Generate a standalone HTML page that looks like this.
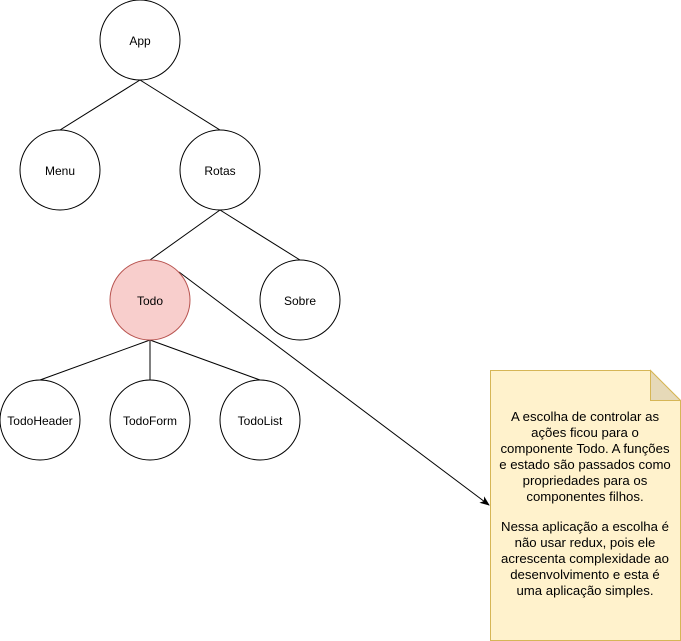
<!DOCTYPE html>
<html><head><meta charset="utf-8"><style>
html,body{margin:0;padding:0;background:#fff;width:681px;height:641px;overflow:hidden}
text{font-family:"Liberation Sans",Arial,sans-serif;font-size:12px;fill:#000}
.n text{font-size:13.2px}
</style></head><body>
<svg width="681" height="641" viewBox="0 0 681 641" xmlns="http://www.w3.org/2000/svg">
<defs><marker id="a" markerWidth="10" markerHeight="10" refX="9" refY="5" orient="auto" markerUnits="userSpaceOnUse"><path d="M0,1 L10,5 L0,9 L2.5,5 Z" fill="#000"/></marker></defs>
<g stroke="#000" stroke-width="1" fill="none">
<line x1="140" y1="80" x2="60" y2="130"/>
<line x1="140" y1="80" x2="220" y2="130"/>
<line x1="220" y1="210" x2="150" y2="260"/>
<line x1="220" y1="210" x2="300" y2="260"/>
<line x1="150" y1="340" x2="40" y2="380"/>
<line x1="150" y1="340" x2="150" y2="380"/>
<line x1="150" y1="340" x2="260" y2="380"/>
<line x1="179" y1="272" x2="489" y2="505" marker-end="url(#a)"/>
</g>
<g stroke="#000" fill="#fff">
<circle cx="140" cy="40" r="40"/>
<circle cx="60" cy="170" r="40"/>
<circle cx="220" cy="170" r="40"/>
<circle cx="150" cy="300" r="40" fill="#f8cecc" stroke="#b85450"/>
<circle cx="300" cy="300" r="40"/>
<circle cx="40" cy="420" r="40"/>
<circle cx="150" cy="420" r="40"/>
<circle cx="260" cy="420" r="40"/>
</g>
<g text-anchor="middle">
<text x="140" y="45">App</text>
<text x="60" y="175">Menu</text>
<text x="220" y="175">Rotas</text>
<text x="150" y="305">Todo</text>
<text x="300" y="305">Sobre</text>
<text x="40" y="425">TodoHeader</text>
<text x="150" y="425">TodoForm</text>
<text x="260" y="425">TodoList</text>
</g>
<path d="M490.5,370.5 H650.5 L680.5,400.5 V640.5 H490.5 Z" fill="#fff2cc" stroke="#d6b656"/>
<path d="M650.5,370.5 V400.5 H680.5 Z" fill="#e6d9b8" stroke="#d6b656"/>
<g text-anchor="middle" class="n">
<text x="585" y="421">A escolha de controlar as</text>
<text x="585" y="437">ações ficou para o</text>
<text x="585" y="453">componente Todo. A funções</text>
<text x="585" y="469">e estado são passados como</text>
<text x="585" y="485">propriedades para os</text>
<text x="585" y="501">componentes filhos.</text>
<text x="585" y="531">Nessa aplicação a escolha é</text>
<text x="585" y="547">não usar redux, pois ele</text>
<text x="585" y="563">acrescenta complexidade ao</text>
<text x="585" y="579">desenvolvimento e esta é</text>
<text x="585" y="595">uma aplicação simples.</text>
</g>
</svg>
</body></html>
